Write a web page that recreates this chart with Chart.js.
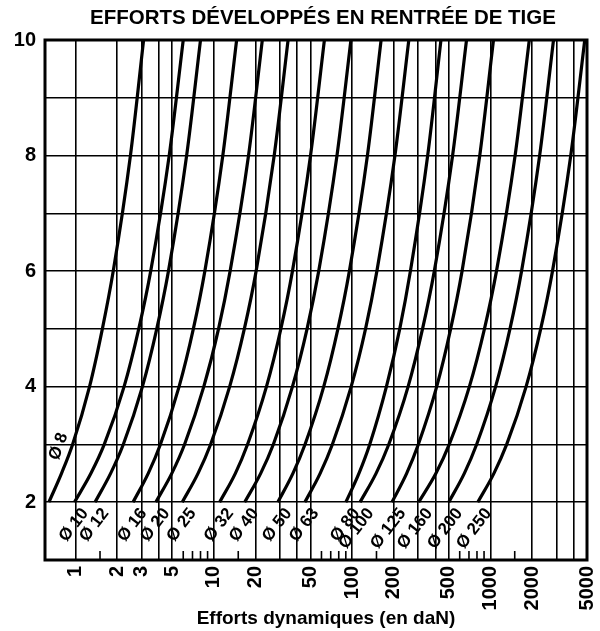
<!DOCTYPE html>
<html>
<head>
<meta charset="utf-8">
<title>Efforts développés en rentrée de tige</title>
<script src="https://cdn.jsdelivr.net/npm/chart.js@4.4.0/dist/chart.umd.min.js"></script>
<style>
  html, body { margin: 0; padding: 0; background: #fff; }
</style>
</head>
<body>
<canvas id="efforts" width="600" height="631"></canvas>
<script>
// pressions (bar) auxquelles les courbes sont relevées
var pressions = [2, 2.5, 3, 4, 5, 6, 8, 10];

// efforts dynamiques (daN) lus sur chaque courbe
var effortD8   = [0.64, 0.79, 0.95, 1.26, 1.56, 1.87, 2.49, 3.1];
var effortD10  = [0.98, 1.29, 1.61, 2.24, 2.86, 3.49, 4.75, 6.0];
var effortD12  = [1.38, 1.79, 2.21, 3.04, 3.86, 4.69, 6.35, 8.0];
var effortD16  = [2.6, 3.35, 4.1, 5.6, 7.1, 8.6, 11.6, 14.6];
var effortD20  = [3.8, 4.96, 6.13, 8.45, 10.8, 13.1, 17.8, 22.4];
var effortD25  = [5.9, 7.68, 9.46, 13.0, 16.6, 20.2, 27.3, 34.4];
var effortD32  = [11, 14.3, 17.5, 24, 30.5, 37, 50, 63];
var effortD40  = [16.7, 21.8, 26.9, 37.0, 47.2, 57.3, 77.7, 98];
var effortD50  = [29, 37.3, 45.6, 62.3, 78.9, 95.5, 129, 162];
var effortD63  = [45.5, 58.7, 71.9, 98.4, 125, 151, 204, 257];
var effortD80  = [90, 112, 134, 177, 221, 264, 352, 439];
var effortD100 = [114, 149, 184, 254, 323, 393, 533, 672];
var effortD125 = [194, 248, 301, 409, 516, 624, 838, 1053];
var effortD160 = [303, 404, 504, 705, 906, 1107, 1510, 1912];
var effortD200 = [500, 648, 795, 1091, 1386, 1681, 2272, 2862];
var effortD250 = [811, 1061, 1312, 1813, 2313, 2814, 3815, 4816];

var diametres = ['8', '10', '12', '16', '20', '25', '32', '40', '50', '63', '80', '100', '125', '160', '200', '250'];
var efforts = [effortD8, effortD10, effortD12, effortD16, effortD20, effortD25, effortD32, effortD40,
               effortD50, effortD63, effortD80, effortD100, effortD125, effortD160, effortD200, effortD250];

// graduations
var yLabels = [2, 4, 6, 8, 10];
var xGrid = [1, 2, 3, 4, 5, 10, 20, 30, 40, 50, 100, 200, 300, 400, 500, 1000, 2000, 3000, 4000, 5000];
var xLabels = [1, 2, 3, 5, 10, 20, 50, 100, 200, 500, 1000, 2000, 5000];
var xMinor = [1.5, 6, 7, 8, 9, 15, 60, 70, 80, 90, 150, 600, 700, 800, 900, 1500];

var police = "'Liberation Sans', Arial, Helvetica, sans-serif";
Chart.defaults.font.family = police;
Chart.defaults.color = '#000';

var datasets = [];
for (var i = 0; i < efforts.length; i++) {
    var pts = [];
    for (var j = 0; j < pressions.length; j++) {
        pts.push({ x: efforts[i][j], y: pressions[j] });
    }
    datasets.push({
        label: 'Ø ' + diametres[i],
        data: pts,
        borderColor: '#000',
        borderWidth: 3.2,
        pointRadius: 0,
        cubicInterpolationMode: 'monotone',
        fill: false
    });
}

// cadre, petites graduations, repères des diamètres et titres
var habillage = {
    id: 'habillage',
    afterDatasetsDraw: function (chart) {
        var ctx = chart.ctx;
        var area = chart.chartArea;
        var sx = chart.scales.x;

        ctx.save();
        ctx.strokeStyle = '#000';
        ctx.lineWidth = 1.6;
        xMinor.forEach(function (v) {
            var px = sx.getPixelForValue(v);
            ctx.beginPath();
            ctx.moveTo(px, area.bottom);
            ctx.lineTo(px, area.bottom - 9);
            ctx.stroke();
        });
        ctx.lineWidth = 3;
        ctx.strokeRect(area.left, area.top, area.right - area.left, area.bottom - area.top);
        ctx.restore();

        ctx.save();
        ctx.fillStyle = '#000';
        ctx.font = 'bold 17px ' + police;
        chart.data.datasets.forEach(function (ds, i) {
            var meta = chart.getDatasetMeta(i);
            var pt;
            ctx.save();
            if (i === 0) {
                pt = meta.data[2];
                ctx.translate(pt.x - 14, pt.y + 2);
                ctx.rotate(-70 * Math.PI / 180);
                ctx.textAlign = 'center';
                ctx.textBaseline = 'middle';
            } else {
                pt = meta.data[0];
                ctx.translate(pt.x + 4, pt.y + 3);
                ctx.rotate(-52 * Math.PI / 180);
                ctx.textAlign = 'right';
                ctx.textBaseline = 'top';
            }
            ctx.fillText(ds.label, 0, 0);
            ctx.restore();
        });

        var milieu = (area.left + area.right) / 2;
        ctx.textAlign = 'center';
        ctx.textBaseline = 'middle';
        ctx.font = 'bold 20.5px ' + police;
        ctx.fillText('EFFORTS DÉVELOPPÉS EN RENTRÉE DE TIGE', milieu + 7, 18);
        ctx.font = 'bold 19px ' + police;
        ctx.fillText('Efforts dynamiques (en daN)', milieu + 10, 619);
        ctx.restore();
    }
};

new Chart(document.getElementById('efforts'), {
    type: 'line',
    data: { datasets: datasets },
    plugins: [habillage],
    options: {
        responsive: false,
        animation: false,
        devicePixelRatio: 1,
        layout: { padding: { top: 40, right: 13, left: 0, bottom: 0 } },
        plugins: {
            legend: { display: false },
            tooltip: { enabled: false },
            title: { display: false }
        },
        scales: {
            x: {
                type: 'logarithmic',
                min: 0.62,
                max: 5000,
                afterBuildTicks: function (scale) {
                    scale.ticks = xGrid.map(function (v) { return { value: v }; });
                },
                afterFit: function (scale) {
                    scale.height = 71;
                    scale.paddingLeft = 0;
                    scale.paddingRight = 0;
                },
                border: { display: false },
                grid: { color: '#000', lineWidth: 1.6, drawTicks: false },
                ticks: {
                    autoSkip: false,
                    minRotation: 90,
                    maxRotation: 90,
                    padding: 6,
                    font: { size: 20, weight: 'bold' },
                    callback: function (value) {
                        return xLabels.indexOf(value) >= 0 ? String(value) : '';
                    }
                }
            },
            y: {
                type: 'linear',
                min: 1,
                max: 10,
                afterFit: function (scale) {
                    scale.width = 45;
                    scale.paddingTop = 0;
                    scale.paddingBottom = 0;
                },
                border: { display: false },
                grid: { color: '#000', lineWidth: 1.6, drawTicks: false },
                ticks: {
                    stepSize: 1,
                    padding: 9,
                    font: { size: 20, weight: 'bold' },
                    callback: function (value) {
                        return yLabels.indexOf(value) >= 0 ? String(value) : '';
                    }
                }
            }
        }
    }
});
</script>
</body>
</html>
